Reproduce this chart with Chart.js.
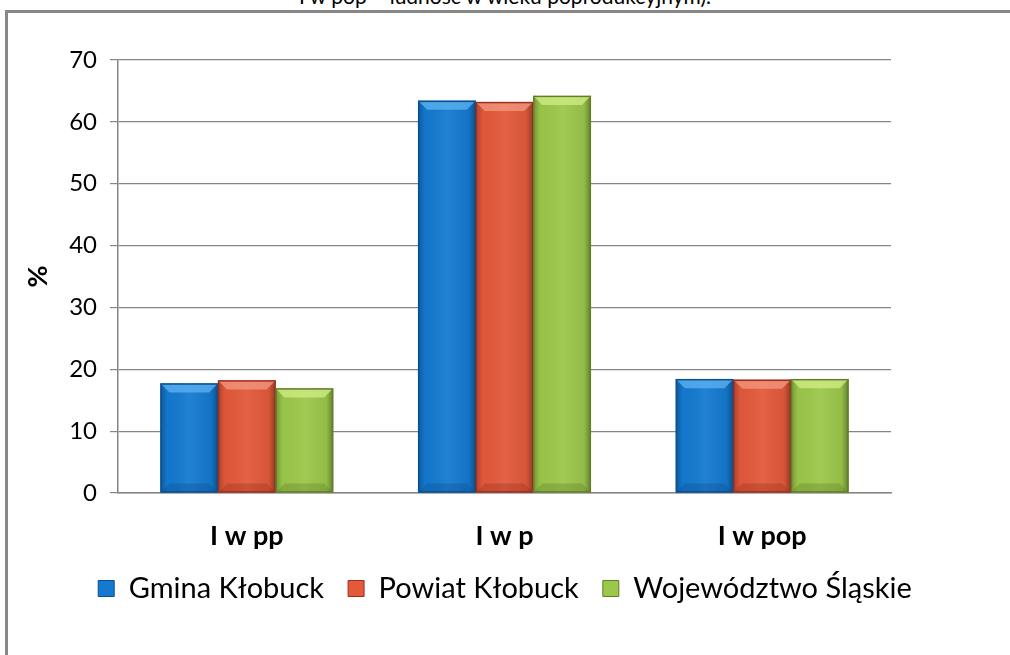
<!DOCTYPE html>
<html>
<head>
<meta charset="utf-8">
<script src="https://cdn.jsdelivr.net/npm/chart.js@4"></script>
<style>
  html, body { margin: 0; padding: 0; background: #fff; overflow: hidden; }
  #wrap { position: relative; width: 1010px; height: 655px; }
  #frame { position: absolute; left: 5px; top: 10px; width: 1020px; height: 660px; border: 3px solid #888; box-sizing: border-box; }
  #cut { position: absolute; left: 0; width: 1010px; top: -17px; text-align: center; font-family: Lato, sans-serif; font-size: 21px; color: #000; }
  canvas { position: absolute; left: 0; top: 0; }
</style>
</head>
<body>
<div id="wrap">
  <div id="cut">I w pop – ludność w wieku poprodukcyjnym).</div>
  <div id="frame"></div>
  <canvas id="chart1" width="1010" height="655"></canvas>
</div>
<script>
// data
var categories = ["I w pp", "I w p", "I w pop"];
var gmina = [17.7, 63.4, 18.4];
var powiat = [18.2, 63.2, 18.3];
var wojewodztwo = [16.9, 64.2, 18.4];
var seriesNames = ["Gmina Kłobuck", "Powiat Kłobuck", "Województwo Śląskie"];
var yTicks = [0, 10, 20, 30, 40, 50, 60, 70];

var fills = ["#1479cf", "#e2593b", "#9bc74a"];
var dark = ["#0b4f92", "#9c3020", "#617f2a"];
var light = ["#5fb4f2", "#f39a80", "#d2ee88"];

// bevel look on each bar, drawn from the bar elements Chart.js placed
var bevel = {
  id: "bevel",
  afterDatasetsDraw: function (chart) {
    var ctx = chart.ctx;
    chart.data.datasets.forEach(function (ds, i) {
      var meta = chart.getDatasetMeta(i);
      meta.data.forEach(function (bar) {
        var l = bar.x - bar.width / 2, r = bar.x + bar.width / 2;
        var t = bar.y, b = bar.base, w = bar.width;
        var e = 9;
        ctx.save();
        // side shading
        var g = ctx.createLinearGradient(l, 0, r, 0);
        g.addColorStop(0, "rgba(0,0,0,0.25)");
        g.addColorStop(0.12, "rgba(0,0,0,0.02)");
        g.addColorStop(0.5, "rgba(255,255,255,0.06)");
        g.addColorStop(0.88, "rgba(0,0,0,0.05)");
        g.addColorStop(1, "rgba(0,0,0,0.35)");
        ctx.fillStyle = g;
        ctx.fillRect(l, t, w, b - t);
        // top bevel
        ctx.fillStyle = light[i];
        ctx.globalAlpha = 0.75;
        ctx.beginPath();
        ctx.moveTo(l, t); ctx.lineTo(r, t); ctx.lineTo(r - e, t + e); ctx.lineTo(l + e, t + e);
        ctx.closePath(); ctx.fill();
        // bottom bevel
        ctx.fillStyle = dark[i];
        ctx.globalAlpha = 0.35;
        ctx.beginPath();
        ctx.moveTo(l, b); ctx.lineTo(r, b); ctx.lineTo(r - e, b - e); ctx.lineTo(l + e, b - e);
        ctx.closePath(); ctx.fill();
        ctx.globalAlpha = 1;
        ctx.strokeStyle = dark[i];
        ctx.lineWidth = 1.5;
        ctx.strokeRect(l + 0.5, t + 0.5, w - 1, b - t - 1);
        ctx.restore();
      });
    });
  }
};

var ctx = document.getElementById("chart1").getContext("2d");
var myChart = new Chart(ctx, {
  type: "bar",
  data: {
    labels: categories,
    datasets: [
      { label: seriesNames[0], data: gmina, backgroundColor: fills[0], borderColor: dark[0] },
      { label: seriesNames[1], data: powiat, backgroundColor: fills[1], borderColor: dark[1] },
      { label: seriesNames[2], data: wojewodztwo, backgroundColor: fills[2], borderColor: dark[2] },
    ],
  },
  options: {
    responsive: false,
    animation: false,
    categoryPercentage: 0.67,
    barPercentage: 1,
    layout: { padding: { left: 0, right: 0, top: 60, bottom: 42 } },
    plugins: {
      tooltip: { enabled: false },
      legend: {
        position: "bottom",
        labels: {
          color: "#000",
          font: { family: "Lato, sans-serif", size: 29 },
          boxWidth: 16,
          boxHeight: 16,
          padding: 24,
          generateLabels: function (chart) {
            return chart.data.datasets.map(function (ds, i) {
              return { text: ds.label, fillStyle: fills[i], strokeStyle: dark[i], lineWidth: 1, datasetIndex: i };
            });
          },
        },
      },
    },
    scales: {
      x: {
        grid: { display: false, drawTicks: false },
        border: { color: "#868686", width: 1.5 },
        ticks: { color: "#000", padding: 27, font: { family: "Lato, sans-serif", size: 27, weight: "bold" } },
        afterFit: function (axis) { axis.height = 57; },
      },
      y: {
        min: 0,
        max: 70,
        afterBuildTicks: function (axis) {
          axis.ticks = yTicks.map(function (v) { return { value: v }; });
        },
        grid: { color: "#868686", lineWidth: 1.2, tickLength: 8 },
        border: { color: "#868686", width: 1.5 },
        ticks: { color: "#000", padding: 13, font: { family: "Lato, sans-serif", size: 24 } },
        title: { display: true, text: "%", color: "#000", padding: { top: 22, bottom: 0 }, font: { family: "Lato, sans-serif", size: 27, weight: "bold" } },
        afterFit: function (axis) { axis.width = 118; },
      },
      // empty right-hand strip so the plot ends where the reference's does
      yRight: {
        position: "right",
        min: 0,
        max: 70,
        grid: { display: false, drawTicks: false },
        border: { display: false },
        ticks: { display: false },
        afterFit: function (axis) { axis.width = 119; },
      },
    },
  },
  plugins: [bevel],
});
</script>
</body>
</html>
